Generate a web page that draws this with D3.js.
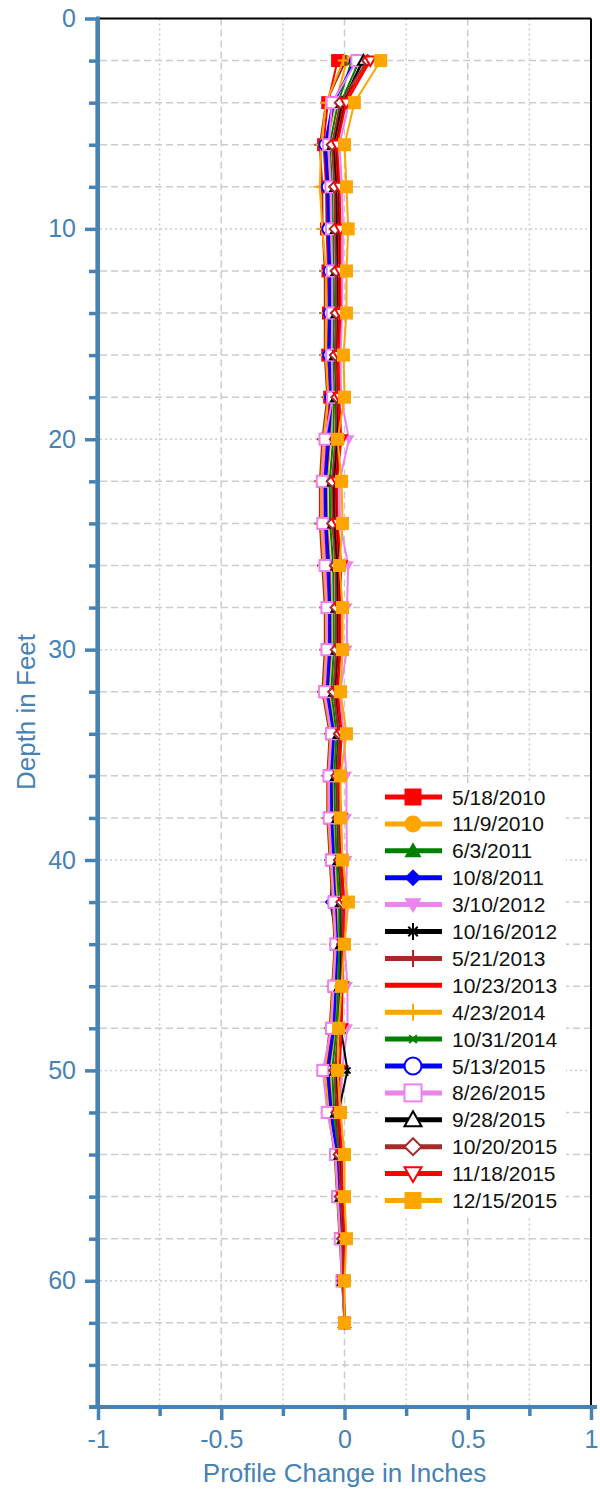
<!DOCTYPE html>
<html>
<head>
<meta charset="utf-8">
<script src="https://cdn.jsdelivr.net/npm/d3@7"></script>
<style>
  body { margin: 0; background: #fff; }
  svg text { font-family: "Liberation Sans", Arial, Helvetica, sans-serif; }
</style>
</head>
<body>
<div id="chart"></div>
<script>
// depth of each reading (feet)
const depths = [2,4,6,8,10,12,14,16,18,20,22,24,26,28,30,32,34,36,38,40,42,44,46,48,50,52,54,56,58,60,62];

const seriesNames = ["5/18/2010","11/9/2010","6/3/2011","10/8/2011","3/10/2012","10/16/2012","5/21/2013","10/23/2013",
  "4/23/2014","10/31/2014","5/13/2015","8/26/2015","9/28/2015","10/20/2015","11/18/2015","12/15/2015"];
const seriesColors = ["red","orange","green","blue","violet","black","brown","red",
  "orange","green","blue","violet","black","brown","red","orange"];
const seriesMarkers = ["square","circle","triangle","diamond","triangleDown","star","plus","none",
  "plus","cross","circleOpen","squareOpen","triangleOpen","diamondOpen","triangleDownOpen","square"];

// profile change in inches, one value per depth
const s1  = [-0.028,-0.068,-0.085,-0.075,-0.073,-0.067,-0.065,-0.068,-0.06,-0.074,-0.085,-0.083,-0.074,-0.067,-0.066,-0.077,-0.05,-0.06,-0.058,-0.05,-0.04,-0.033,-0.041,-0.05,-0.075,-0.06,-0.034,-0.026,-0.016,-0.009,0];
const s2  = [0.01,-0.037,-0.07,-0.06,-0.058,-0.053,-0.051,-0.056,-0.049,-0.057,-0.07,-0.068,-0.057,-0.053,-0.052,-0.063,-0.039,-0.049,-0.046,-0.039,-0.029,-0.025,-0.032,-0.039,-0.06,-0.049,-0.028,-0.021,-0.011,-0.007,0];
const s3  = [0.03,-0.026,-0.06,-0.05,-0.047,-0.044,-0.042,-0.048,-0.042,-0.046,-0.06,-0.058,-0.046,-0.044,-0.043,-0.054,-0.032,-0.042,-0.038,-0.032,-0.022,-0.02,-0.026,-0.032,-0.05,-0.042,-0.024,-0.018,-0.008,-0.006,0];
const s4  = [0.04,-0.042,-0.075,-0.065,-0.063,-0.058,-0.056,-0.06,-0.052,-0.062,-0.075,-0.073,-0.062,-0.058,-0.057,-0.068,-0.042,-0.052,-0.05,-0.042,-0.058,-0.028,-0.035,-0.042,-0.065,-0.052,-0.03,-0.022,-0.012,-0.007,0];
const s5  = [0.05,0.018,-0.02,-0.01,-0.006,-0.008,-0.01,-0.016,-0.014,0.018,-0.02,-0.018,0.015,0.01,0.01,-0.018,-0.004,0.008,0.008,0.01,0.006,0.0,0.012,0.012,-0.01,-0.014,-0.008,-0.006,0.004,-0.002,0];
const s6  = [0.07,0.002,-0.035,-0.025,-0.021,-0.022,-0.021,-0.028,-0.025,-0.019,-0.035,-0.033,-0.019,-0.022,-0.021,-0.032,-0.015,-0.025,-0.018,-0.015,-0.005,-0.008,-0.011,-0.015,0.012,-0.025,-0.014,-0.01,-0.001,-0.003,0];
const s7  = [0.005,-0.075,-0.1,-0.09,-0.089,-0.08,-0.08,-0.08,-0.07,-0.09,-0.1,-0.1,-0.09,-0.08,-0.08,-0.09,-0.06,-0.07,-0.07,-0.06,-0.05,-0.04,-0.05,-0.06,-0.08,-0.065,-0.04,-0.03,-0.02,-0.01,0];
const s8  = [0.1,-0.004,-0.04,-0.03,-0.027,-0.026,-0.025,-0.032,-0.028,-0.024,-0.04,-0.038,-0.024,-0.026,-0.025,-0.036,-0.018,-0.028,-0.022,-0.018,-0.008,-0.01,-0.014,-0.018,-0.03,-0.028,-0.016,-0.012,-0.002,-0.004,0];
const s9  = [-0.005,-0.075,-0.095,-0.1,-0.09,-0.075,-0.075,-0.076,-0.066,-0.085,-0.095,-0.095,-0.085,-0.075,-0.075,-0.085,-0.056,-0.066,-0.066,-0.056,-0.046,-0.037,-0.047,-0.056,-0.08,-0.062,-0.038,-0.028,-0.018,-0.009,0];
const s10 = [0.06,-0.015,-0.05,-0.04,-0.037,-0.035,-0.034,-0.04,-0.035,-0.035,-0.05,-0.048,-0.035,-0.035,-0.034,-0.045,-0.025,-0.035,-0.03,-0.025,-0.015,-0.015,-0.02,-0.025,-0.04,-0.035,-0.02,-0.015,-0.005,-0.005,0];
const s11 = [0.045,-0.048,-0.08,-0.07,-0.068,-0.062,-0.062,-0.064,-0.056,-0.068,-0.08,-0.078,-0.068,-0.062,-0.062,-0.072,-0.046,-0.056,-0.054,-0.046,-0.036,-0.03,-0.038,-0.046,-0.07,-0.056,-0.032,-0.024,-0.014,-0.008,0];
const s12 = [0.05,-0.05,-0.065,-0.055,-0.053,-0.05,-0.05,-0.052,-0.048,-0.079,-0.09,-0.088,-0.079,-0.071,-0.071,-0.081,-0.053,-0.063,-0.062,-0.053,-0.043,-0.035,-0.044,-0.053,-0.088,-0.07,-0.036,-0.027,-0.017,-0.009,0];
const s13 = [0.077,-0.01,-0.045,-0.035,-0.032,-0.03,-0.03,-0.036,-0.032,-0.03,-0.045,-0.043,-0.03,-0.03,-0.03,-0.04,-0.022,-0.032,-0.026,-0.022,-0.012,-0.012,-0.017,-0.022,-0.035,-0.032,-0.018,-0.013,-0.004,-0.004,0];
const s14 = [0.093,-0.017,-0.05,-0.04,-0.038,-0.034,-0.033,-0.037,-0.031,-0.037,-0.05,-0.048,-0.037,-0.034,-0.033,-0.044,-0.021,-0.031,-0.027,-0.021,-0.011,-0.008,-0.014,-0.021,-0.04,-0.031,-0.022,-0.017,-0.008,-0.006,0];
const s15 = [0.105,0.007,-0.03,-0.02,-0.016,-0.017,-0.016,-0.024,-0.021,-0.013,-0.03,-0.028,-0.013,-0.017,-0.016,-0.027,-0.011,-0.021,-0.014,-0.011,-0.001,-0.005,-0.008,-0.011,-0.02,-0.021,-0.012,-0.009,0.001,-0.003,0];
const s16 = [0.147,0.04,0.0,0.008,0.015,0.008,0.008,-0.004,0.0,-0.028,-0.012,-0.008,-0.02,-0.008,-0.008,-0.016,0.008,-0.016,-0.016,-0.008,0.016,0.0,-0.012,-0.024,-0.028,-0.016,0.0,0.0,0.008,0.0,0];
const seriesValues = [s1,s2,s3,s4,s5,s6,s7,s8,s9,s10,s11,s12,s13,s14,s15,s16];

const xMajorTicks = [-1,-0.5,0,0.5,1];
const xMinorTicks = [-0.75,-0.25,0.25,0.75];
const yMajorTicks = [0,10,20,30,40,50,60];
const yMinorTicks = d3.range(2, 66, 2).filter((d) => d % 10 !== 0);

const axisColor = "steelblue";
const gridColor = "#cccccc";

const svg = d3.select("#chart").append("svg")
  .attr("width", 600)
  .attr("height", 1491);

const x = d3.scaleLinear().domain([-1, 1]).range([98, 591]);
const y = d3.scaleLinear().domain([0, 66]).range([18.5, 1407]);

// grid
const grid = svg.append("g").attr("class", "grid");
grid.selectAll(".hgrid")
  .data(d3.range(2, 66, 2))
  .enter().append("line")
  .attr("x1", 100).attr("x2", x(1))
  .attr("y1", (d) => y(d)).attr("y2", (d) => y(d))
  .attr("stroke", gridColor).attr("stroke-width", 1.5)
  .attr("stroke-dasharray", (d) => (d % 10 === 0 ? "2,3" : "7,4"));
grid.selectAll(".vgrid")
  .data(xMajorTicks.slice(1, -1).concat(xMinorTicks))
  .enter().append("line")
  .attr("x1", (d) => x(d)).attr("x2", (d) => x(d))
  .attr("y1", y(0)).attr("y2", y(66))
  .attr("stroke", gridColor).attr("stroke-width", 1.5)
  .attr("stroke-dasharray", (d) => (xMinorTicks.includes(d) ? "2,3" : "7,4"));

// frame
svg.append("line").attr("x1", 98).attr("x2", x(1)).attr("y1", y(0)).attr("y2", y(0))
  .attr("stroke", "#000").attr("stroke-width", 2);
svg.append("line").attr("x1", x(1)).attr("x2", x(1)).attr("y1", y(0)).attr("y2", y(66))
  .attr("stroke", "#000").attr("stroke-width", 2);
svg.append("line").attr("x1", 95.5).attr("x2", 95.5).attr("y1", y(0)).attr("y2", y(66))
  .attr("stroke", "#aaa").attr("stroke-width", 1);

// markers
function drawMarker(g, type, color, size) {
  const h = size / 2;
  const open = type.endsWith("Open");
  const fill = open ? "#fff" : color;
  const base = type.replace("Open", "");
  let el = null;
  if (base === "square") {
    el = g.append("rect").attr("x", -h).attr("y", -h).attr("width", size).attr("height", size);
  } else if (base === "circle") {
    el = g.append("circle").attr("r", h);
  } else if (base === "triangle") {
    el = g.append("path").attr("d", `M0,${-h}L${h},${h * 0.75}L${-h},${h * 0.75}Z`);
  } else if (base === "triangleDown") {
    el = g.append("path").attr("d", `M0,${h}L${h},${-h * 0.75}L${-h},${-h * 0.75}Z`);
  } else if (base === "diamond") {
    el = g.append("path").attr("d", `M0,${-h}L${h},0L0,${h}L${-h},0Z`);
  } else if (base === "star") {
    const a = h * 0.55;
    g.append("path")
      .attr("d", `M0,${-h}L0,${h}M${-a},${-a}L${a},${a}M${-a},${a}L${a},${-a}`)
      .attr("stroke", color).attr("stroke-width", 2).attr("fill", "none");
  } else if (base === "plus") {
    g.append("path")
      .attr("d", `M0,${-h}L0,${h}M${-h},0L${h},0`)
      .attr("stroke", color).attr("stroke-width", 2).attr("fill", "none");
  } else if (base === "cross") {
    const a = h * 0.45;
    g.append("path")
      .attr("d", `M${-a},${-a}L${a},${a}M${-a},${a}L${a},${-a}`)
      .attr("stroke", color).attr("stroke-width", 2).attr("fill", "none");
  }
  if (el) {
    el.attr("fill", fill);
    if (open) el.attr("stroke", color).attr("stroke-width", 2);
  }
}

// series
const line = d3.line().x((d) => x(d[1])).y((d) => y(d[0]));
seriesValues.forEach((vals, i) => {
  const pts = depths.map((d, j) => [d, vals[j]]);
  const g = svg.append("g").attr("class", "series");
  g.append("path")
    .attr("d", line(pts))
    .attr("fill", "none")
    .attr("stroke", seriesColors[i])
    .attr("stroke-width", 2);
  if (seriesMarkers[i] !== "none") {
    const size = seriesMarkers[i] === "square" ? 13 : 11;
    pts.forEach((p) => {
      const mg = g.append("g").attr("transform", `translate(${x(p[1])},${y(p[0])})`);
      drawMarker(mg, seriesMarkers[i], seriesColors[i], size);
    });
  }
});

// axes
const yAxisMinor = d3.axisLeft(y).tickValues(yMinorTicks).tickSize(9).tickFormat("");
const yAxisMajor = d3.axisLeft(y).tickValues(yMajorTicks).tickSize(13).tickPadding(9).tickFormat((d) => String(d));
const xAxisMinor = d3.axisBottom(x).tickValues(xMinorTicks).tickSize(9).tickFormat("");
const xAxisMajor = d3.axisBottom(x).tickValues(xMajorTicks).tickSize(13).tickPadding(10).tickFormat((d) => String(d));

function styleAxis(g) {
  g.select(".domain").remove();
  g.selectAll(".tick line").attr("stroke", axisColor).attr("stroke-width", 3.5);
  g.selectAll(".tick text").attr("fill", axisColor).style("font-size", "25px");
}

svg.append("g").attr("transform", "translate(98,0)").call(yAxisMinor).call(styleAxis);
svg.append("g").attr("transform", "translate(98,0)").call(yAxisMajor).call(styleAxis);
svg.append("g").attr("transform", `translate(0,${y(66)})`).call(xAxisMinor).call(styleAxis);
svg.append("g").attr("transform", `translate(0,${y(66)})`).call(xAxisMajor).call(styleAxis);

svg.append("line").attr("x1", 98).attr("x2", 98).attr("y1", 16.5).attr("y2", y(66) + 2)
  .attr("stroke", axisColor).attr("stroke-width", 4);
svg.append("line").attr("x1", 89).attr("x2", 597).attr("y1", y(66)).attr("y2", y(66))
  .attr("stroke", axisColor).attr("stroke-width", 4);

// axis titles
svg.append("text")
  .attr("x", x(0)).attr("y", 1482)
  .attr("text-anchor", "middle")
  .attr("fill", axisColor)
  .style("font-size", "26px")
  .text("Profile Change in Inches");
svg.append("text")
  .attr("transform", `translate(35,${712}) rotate(-90)`)
  .attr("text-anchor", "middle")
  .attr("fill", axisColor)
  .style("font-size", "26px")
  .text("Depth in Feet");

// legend
const legend = svg.append("g").attr("class", "legend");
legend.append("rect")
  .attr("x", 378).attr("y", 783).attr("width", 188).attr("height", 434)
  .attr("fill", "#fff");
seriesNames.forEach((name, i) => {
  const ly = 797 + i * 26.9;
  const row = legend.append("g").attr("transform", `translate(0,${ly})`);
  row.append("line")
    .attr("x1", 385).attr("x2", 442)
    .attr("stroke", seriesColors[i]).attr("stroke-width", 5);
  if (seriesMarkers[i] !== "none") {
    const mg = row.append("g").attr("transform", "translate(413,0)");
    drawMarker(mg, seriesMarkers[i], seriesColors[i], 17);
  }
  row.append("text")
    .attr("x", 452).attr("dy", "0.36em")
    .attr("fill", "#111")
    .style("font-size", "21px")
    .text(name);
});
</script>
</body>
</html>
